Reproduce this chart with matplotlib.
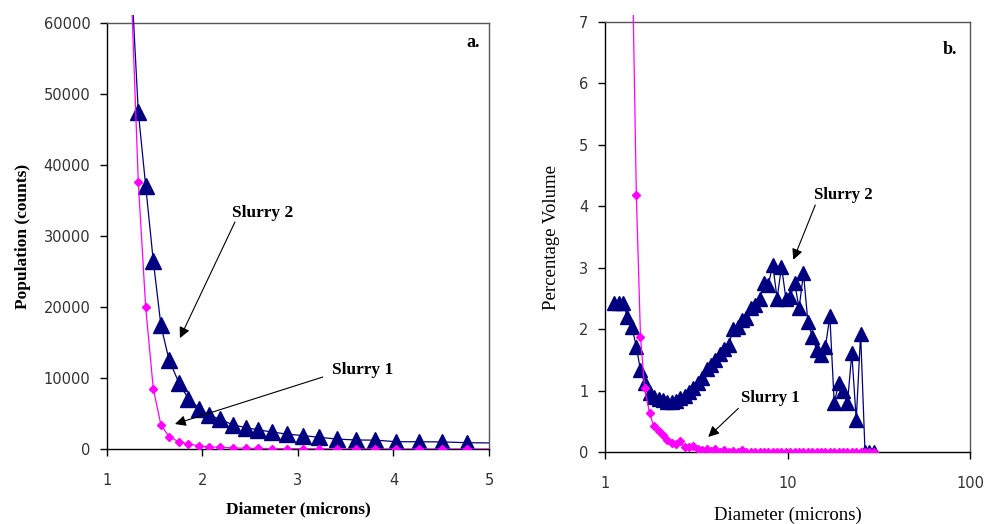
import matplotlib
matplotlib.use("Agg")
import matplotlib.pyplot as plt
from matplotlib.patches import Rectangle
from matplotlib.ticker import FixedLocator, NullLocator, FixedFormatter

# ---------------- data ----------------
# Panel a: population (counts) vs diameter (microns)
diam_a = [1.256, 1.328, 1.405, 1.485, 1.565, 1.649, 1.754, 1.852, 1.967, 2.07,
          2.18, 2.32, 2.46, 2.58, 2.73, 2.88, 3.05, 3.22, 3.41, 3.61, 3.81,
          4.03, 4.27, 4.51, 4.77, 5.04]
slurry2_a = [66000, 47500, 37100, 26500, 17400, 12600, 9300, 7100, 5700, 4800,
             4200, 3400, 3000, 2700, 2400, 2100, 1900, 1650, 1400, 1270, 1250,
             1030, 1020, 1000, 890, 850]
slurry1_a = [64000, 37600, 20000, 8500, 3400, 1750, 1000, 700, 450, 300,
             250, 150, 100, 80, 60, 50, 40, 30, 25, 20, 15,
             10, 10, 5, 5, 5]

# Panel b: percentage volume vs diameter (microns), log axis
diam_b = [1.124, 1.188, 1.256, 1.328, 1.405, 1.485, 1.565, 1.649, 1.754, 1.852,
          1.967, 2.07, 2.18, 2.32, 2.46, 2.58, 2.73, 2.88, 3.05, 3.22,
          3.41, 3.61, 3.81, 4.03, 4.27, 4.51, 4.77, 5.04, 5.33, 5.63,
          5.95, 6.29, 6.65, 7.03, 7.43, 7.85, 8.30, 8.77, 9.27, 9.80,
          10.36, 10.95, 11.57, 12.23, 12.93, 13.67, 14.45, 15.27, 16.14, 17.06,
          18.03, 19.06, 20.15, 21.30, 22.51, 23.80, 25.15, 26.59, 28.10, 29.70]
slurry2_b = [2.42, 2.42, 2.42, 2.2, 2.03, 1.72, 1.33, 1.12, 0.96, 0.9,
             0.87, 0.85, 0.82, 0.82, 0.84, 0.88, 0.92, 0.98, 1.05, 1.12,
             1.2, 1.35, 1.42, 1.5, 1.6, 1.68, 1.75, 2.0, 2.03, 2.15,
             2.18, 2.34, 2.39, 2.5, 2.75, 2.72, 3.05, 2.5, 3.02, 2.5,
             2.53, 2.75, 2.34, 2.91, 2.12, 1.88, 1.66, 1.58, 1.72, 2.21,
             0.80, 1.12, 0.99, 0.80, 1.61, 0.53, 1.93, 0.0, 0.0, 0.0]
slurry1_b_start = 4
slurry1_b = [8.4, 4.18, 1.88, 1.04, 0.64, 0.42, 0.34, 0.28, 0.2, 0.15,
             0.13, 0.18, 0.09, 0.09, 0.1, 0.06, 0.03, 0.05, 0.02, 0.05,
             0.01, 0.04, 0.01, 0.02, 0.0, 0.03,
             0.01, 0.0, 0.01, 0.0, 0.01, 0.0, 0.0, 0.01, 0.0, 0.0,
             0.01, 0.0, 0.0, 0.0, 0.01, 0.0, 0.0, 0.0, 0.0, 0.01,
             0.0, 0.0, 0.0, 0.0, 0.0, 0.0, 0.0, 0.01, 0.0, 0.0]

yticks_a = [0, 10000, 20000, 30000, 40000, 50000, 60000]
xticks_a = [1, 2, 3, 4, 5]
yticks_b = [0, 1, 2, 3, 4, 5, 6, 7]
xticks_b = [1, 10, 100]

NAVY = "#000080"
PINK = "#FF00FF"
SERIF = "Liberation Serif"
SANS = "DejaVu Sans"
TICKC = "#333333"

fig = plt.figure(figsize=(9.85, 5.24), dpi=100)
fig.patch.set_facecolor("white")

ax1 = fig.add_axes([0.1086, 0.1431, 0.3878, 0.8130])
ax2 = fig.add_axes([0.6142, 0.1368, 0.3706, 0.8218])


def style(ax):
    for s in ["top", "right"]:
        ax.spines[s].set_color("#555555")
    for s in ["left", "bottom"]:
        ax.spines[s].set_color("black")
    for s in ax.spines.values():
        s.set_linewidth(1.0)
    ax.tick_params(direction="out", length=5, width=1.0, colors="black",
                   labelcolor=TICKC, labelsize=10.5)
    for lab in ax.get_xticklabels() + ax.get_yticklabels():
        lab.set_family(SANS)


def clip_ext(ax, line, h_px, ax_h_px):
    r = Rectangle((0, 0), 1, 1 + h_px / ax_h_px, transform=ax.transAxes)
    line.set_clip_path(r)


# ---------------- panel a ----------------
l2, = ax1.plot(diam_a, slurry2_a, color=NAVY, lw=0.9, marker="^", ms=11,
               markevery=slice(1, -1), mec=NAVY, mfc=NAVY, zorder=3)
l1, = ax1.plot(diam_a, slurry1_a, color=PINK, lw=0.9, marker="D", ms=4,
               markevery=slice(1, -1), mec=PINK, mfc=PINK, zorder=4)
clip_ext(ax1, l2, 8, 426)
clip_ext(ax1, l1, 8, 426)
ax1.set_xlim(1, 5)
ax1.set_ylim(0, 60000)
ax1.xaxis.set_major_locator(FixedLocator(xticks_a))
ax1.yaxis.set_major_locator(FixedLocator(yticks_a))
style(ax1)
ax1.tick_params(axis="x", pad=12)
ax1.tick_params(axis="y", pad=7)
ax1.set_xlabel("Diameter (microns)", family=SERIF, fontweight="bold",
               fontsize=12.5, labelpad=10)
ax1.set_ylabel("Population (counts)", family=SERIF, fontweight="bold",
               fontsize=12.5, labelpad=9)
ax1.text(0.958, 0.975, "a.", transform=ax1.transAxes, family=SERIF,
         fontweight="bold", fontsize=13, ha="center", va="top")

ax1.text(2.63, 33240, "Slurry 2", family=SERIF, fontweight="bold",
         fontsize=12.5, ha="center", va="center")
ax1.annotate("", xy=(1.764, 15630), xytext=(2.34, 31970),
             arrowprops=dict(arrowstyle="-|>", color="black", lw=0.8,
                             mutation_scale=16, shrinkA=0, shrinkB=0))
ax1.text(3.68, 11130, "Slurry 1", family=SERIF, fontweight="bold",
         fontsize=12.5, ha="center", va="center")
ax1.annotate("", xy=(1.712, 3520), xytext=(3.26, 10140),
             arrowprops=dict(arrowstyle="-|>", color="black", lw=0.8,
                             mutation_scale=16, shrinkA=0, shrinkB=0))

# ---------------- panel b ----------------
m2, = ax2.plot(diam_b, slurry2_b, color=NAVY, lw=0.9, marker="^", ms=10,
               mec=NAVY, mfc=NAVY, zorder=3)
m1, = ax2.plot(diam_b[slurry1_b_start:], slurry1_b, color=PINK, lw=0.9,
               marker="D", ms=4.5, mec=PINK, mfc=PINK, zorder=4)
clip_ext(ax2, m1, 7, 430)
ax2.set_xscale("log")
ax2.set_xlim(1, 100)
ax2.set_ylim(0, 7)
ax2.xaxis.set_major_locator(FixedLocator(xticks_b))
ax2.xaxis.set_major_formatter(FixedFormatter([str(v) for v in xticks_b]))
ax2.xaxis.set_minor_locator(NullLocator())
ax2.yaxis.set_major_locator(FixedLocator(yticks_b))
style(ax2)
ax2.tick_params(axis="x", pad=12)
ax2.tick_params(axis="y", pad=7)
ax2.set_xlabel("Diameter (microns)", family=SERIF, fontsize=13.5,
               labelpad=11)
ax2.set_ylabel("Percentage Volume", family=SERIF, fontsize=13.5,
               labelpad=14)
ax2.text(0.945, 0.955, "b.", transform=ax2.transAxes, family=SERIF,
         fontweight="bold", fontsize=13, ha="center", va="top")

ax2.text(20.2, 4.18, "Slurry 2", family=SERIF, fontweight="bold",
         fontsize=12, ha="center", va="center")
ax2.annotate("", xy=(10.76, 3.13), xytext=(14.2, 4.02),
             arrowprops=dict(arrowstyle="-|>", color="black", lw=0.8,
                             mutation_scale=16, shrinkA=0, shrinkB=0))
ax2.text(8.02, 0.88, "Slurry 1", family=SERIF, fontweight="bold",
         fontsize=12, ha="center", va="center")
ax2.annotate("", xy=(3.68, 0.25), xytext=(5.38, 0.715),
             arrowprops=dict(arrowstyle="-|>", color="black", lw=0.8,
                             mutation_scale=16, shrinkA=0, shrinkB=0))

fig.savefig("out.png", dpi=100)
